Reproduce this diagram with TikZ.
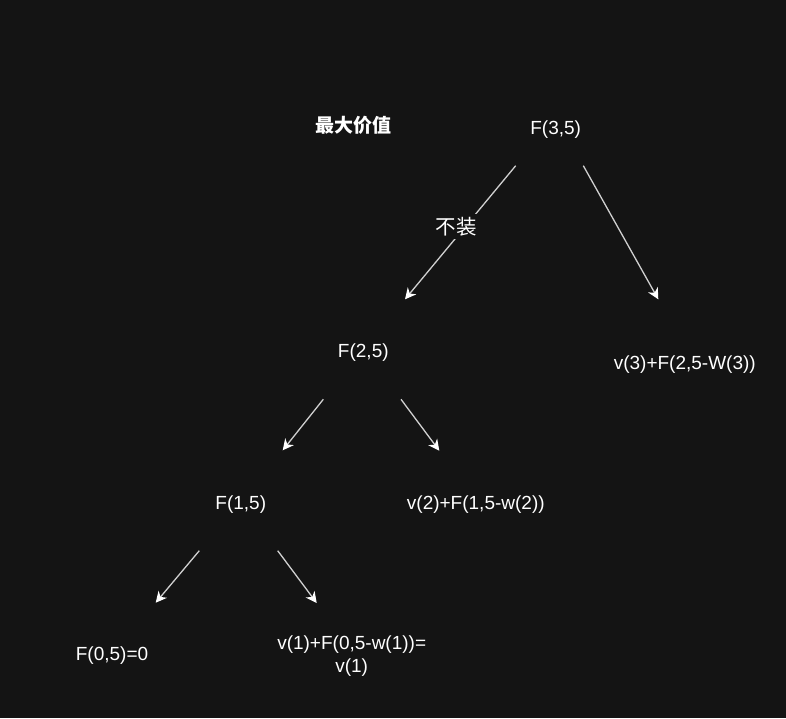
\documentclass[tikz,border=0pt]{standalone}
\usepackage{fontspec}
\setmainfont{Liberation Sans}
\newfontfamily\cjk{Noto Sans CJK SC}
\usetikzlibrary{arrows.meta}
\definecolor{bg}{HTML}{141414}
\definecolor{ln}{HTML}{D0D0D0}
\begin{document}
\begin{tikzpicture}[x=1pt,y=-1pt,
  lbl/.style={text=white,font=\fontsize{19}{23}\selectfont,inner sep=0pt,align=center},
  cjklbl/.style={text=white,inner sep=0pt},
  arr/.style={draw=ln,line width=1.3pt,-{Stealth[length=11pt,width=11pt,inset=3.5pt,color=white]}}]
\fill[bg] (0,0) rectangle (786,718);
\useasboundingbox (0,0) rectangle (786,718);

% text nodes
\node[cjklbl,font=\cjk\bfseries\fontsize{19}{23}\selectfont] (title) at (353,125.5) {最大价值};
\node[lbl,anchor=base] (f35) at (555.7,134) {F(3,5)};
\node[lbl,anchor=base] (f25) at (363.3,357.5) {F(2,5)};
\node[lbl,anchor=base] (v3) at (684.8,369) {v(3)+F(2,5-W(3))};
\node[lbl,anchor=base] (f15) at (240.8,509) {F(1,5)};
\node[lbl,anchor=base] (v2) at (475.8,509) {v(2)+F(1,5-w(2))};
\node[lbl,anchor=base] (f05) at (112,660) {F(0,5)=0};
\node[lbl] (v1) at (351.7,656.5) {v(1)+F(0,5-w(1))=\\v(1)};

% arrow end points
\coordinate (a1s) at (515.7,165.7);
\coordinate (a1e) at (405,299.3);
\coordinate (a2s) at (583.3,165.7);
\coordinate (a2e) at (658.3,299.3);
\coordinate (a3s) at (323.3,399.3);
\coordinate (a3e) at (282.7,450.3);
\coordinate (a4s) at (401,399.3);
\coordinate (a4e) at (439.3,450.7);
\coordinate (a5s) at (199.3,550.7);
\coordinate (a5e) at (155.7,602.7);
\coordinate (a6s) at (277.7,550.7);
\coordinate (a6e) at (316.7,603);

\draw[arr] (a1s) -- (a1e);
\draw[arr] (a2s) -- (a2e);
\draw[arr] (a3s) -- (a3e);
\draw[arr] (a4s) -- (a4e);
\draw[arr] (a5s) -- (a5e);
\draw[arr] (a6s) -- (a6e);

% edge label
\node[fill=bg,text=white,inner xsep=1pt,inner ysep=3pt,font=\cjk\fontsize{20.5}{24}\selectfont] (nolbl) at (456.3,226.5) {不装};
\end{tikzpicture}
\end{document}
